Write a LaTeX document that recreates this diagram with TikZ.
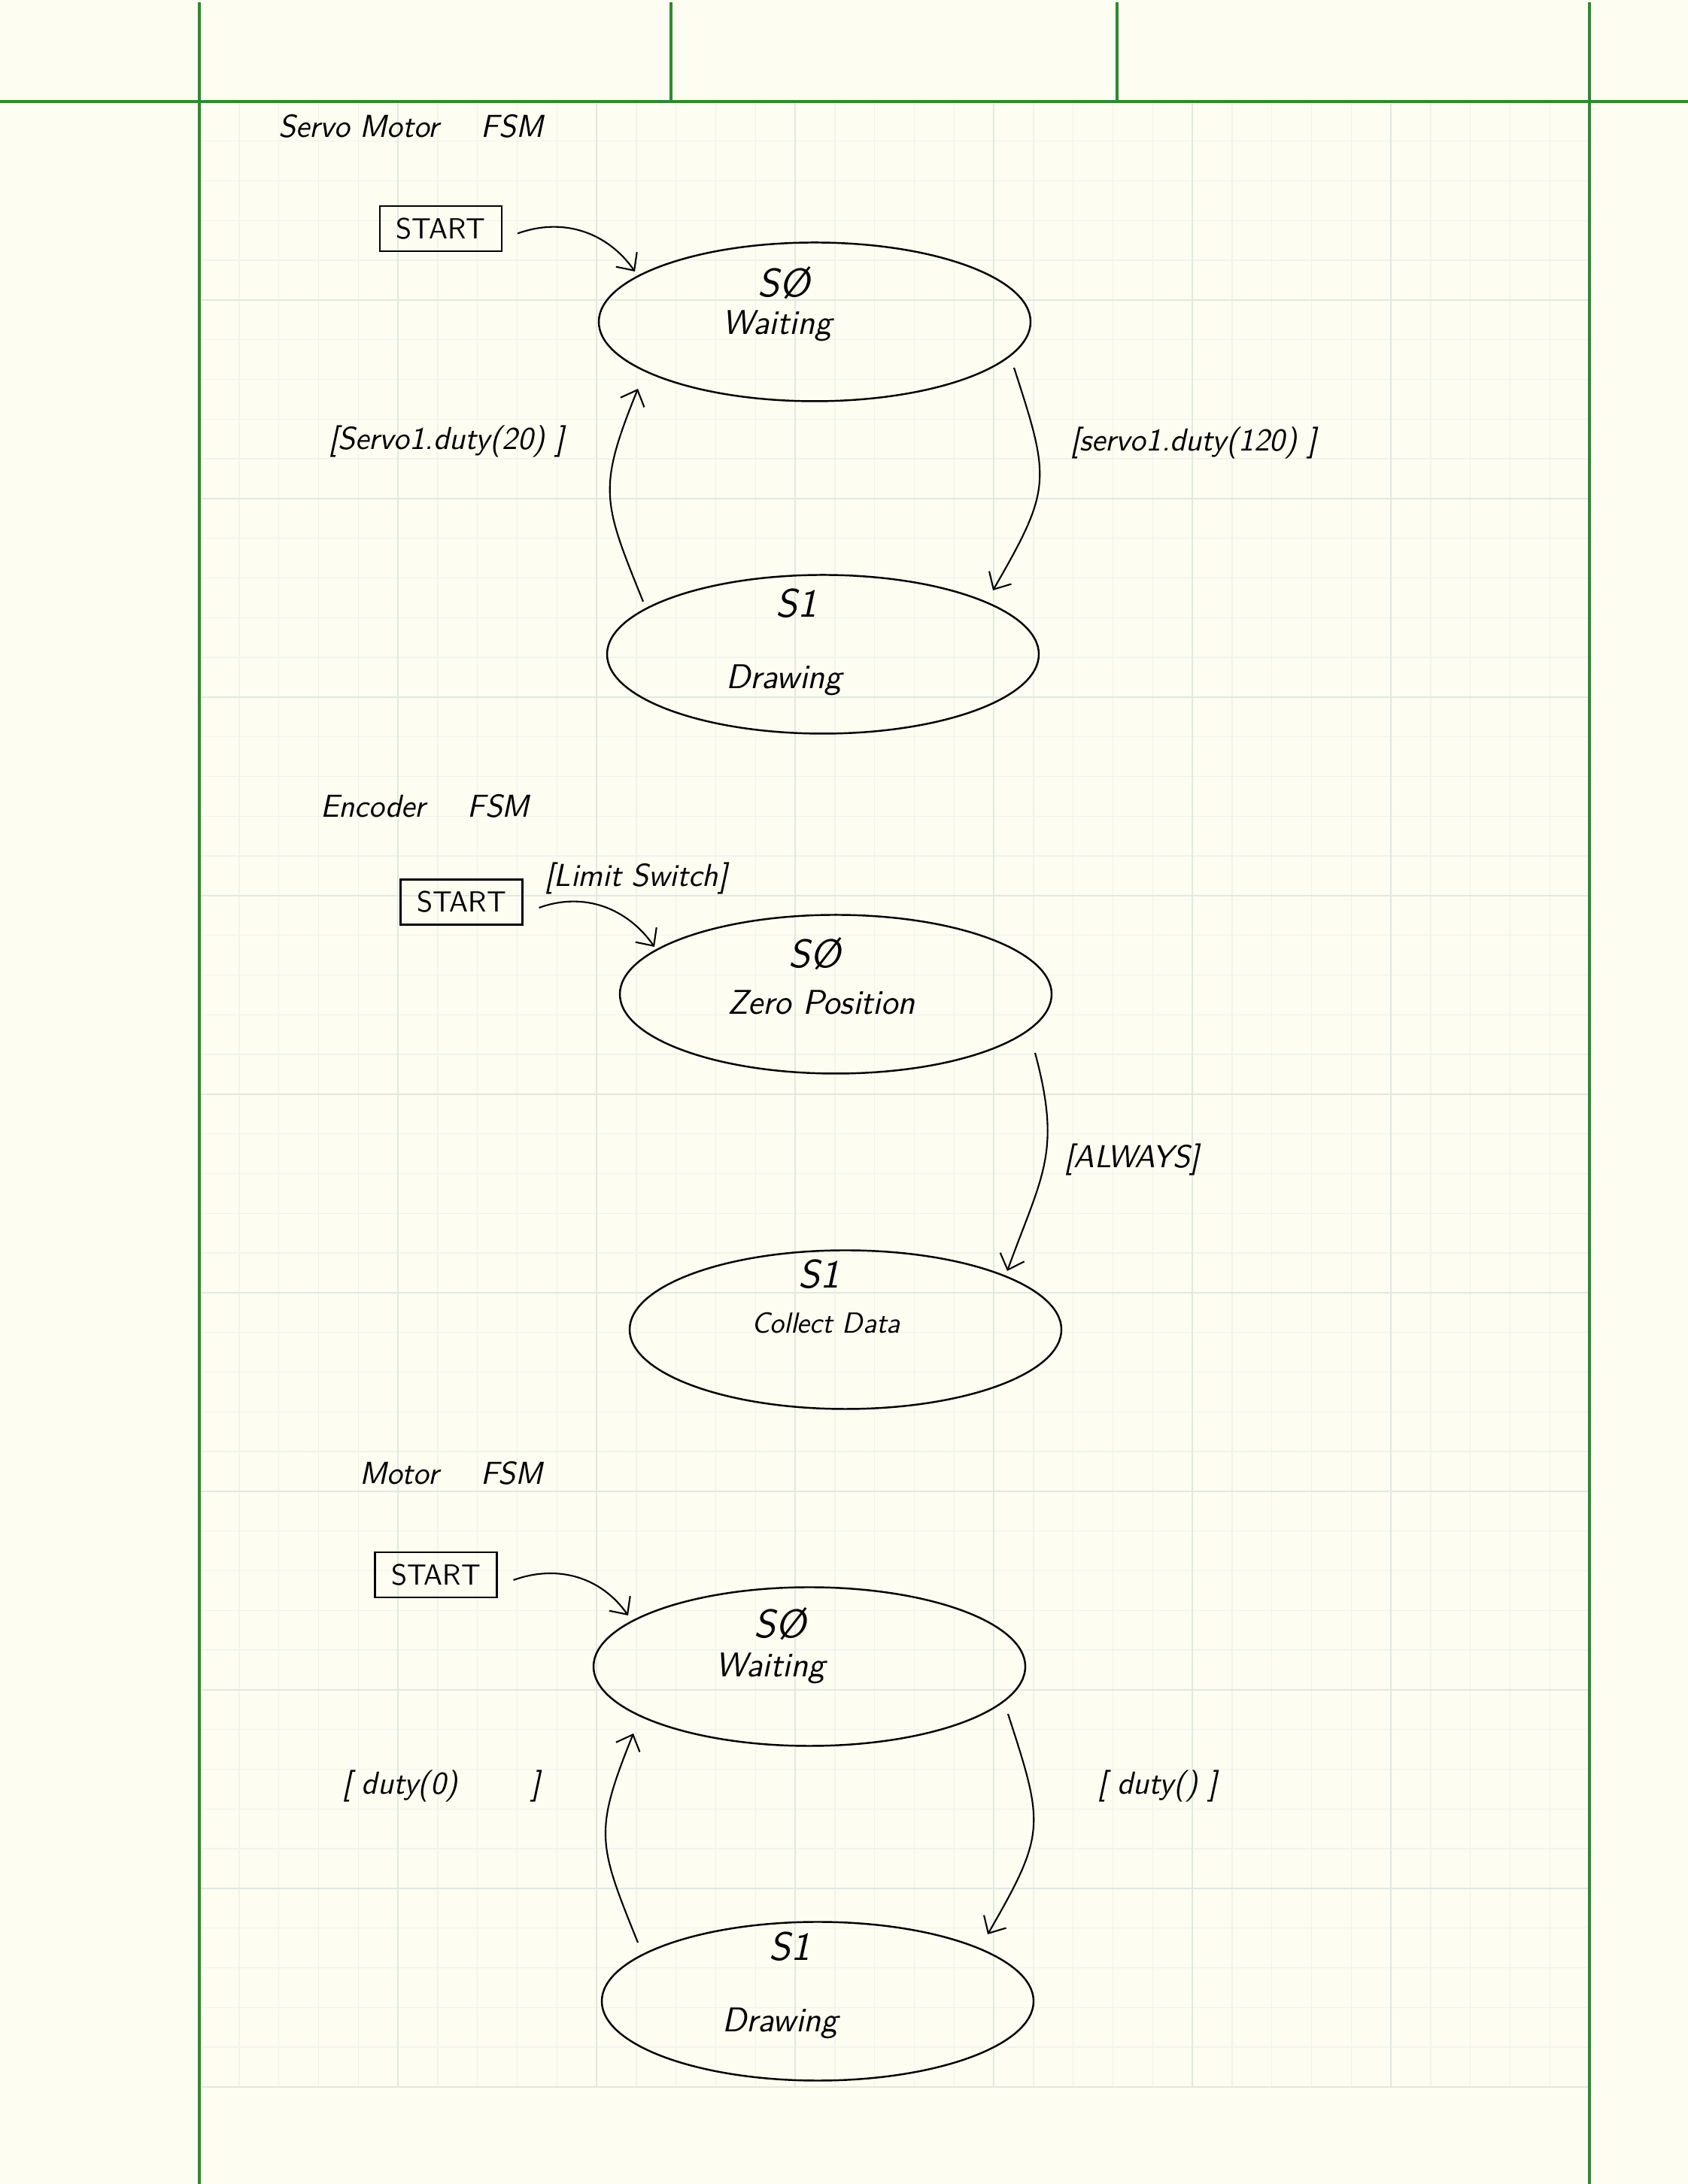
\documentclass[tikz,border=0pt]{standalone}
\usepackage{tikz}
\usetikzlibrary{shapes.geometric,arrows.meta}

\definecolor{paper}{RGB}{253,253,241}
\definecolor{rule}{RGB}{45,138,45}
\definecolor{gridminor}{RGB}{240,244,236}
\definecolor{gridmajor}{RGB}{224,233,224}

\begin{document}
\begin{tikzpicture}[
  hand/.style={font=\sffamily\itshape\fontsize{12}{14}\selectfont},
  stateid/.style={font=\sffamily\itshape\fontsize{15}{18}\selectfont},
  statename/.style={font=\sffamily\itshape\fontsize{13}{16}\selectfont},
  state/.style={ellipse, draw, line width=0.7pt, minimum width=5.74cm, minimum height=2.11cm, inner sep=0pt},
  startbox/.style={draw, line width=0.6pt, minimum width=1.62cm, minimum height=0.6cm, inner sep=0pt, font=\sffamily\fontsize{11}{13}\selectfont},
  trans/.style={line width=0.6pt, -{Straight Barb[length=1.8mm,width=3.4mm]}}
]

% paper
\fill[paper] (0,0) rectangle (22.44,29.04);
\useasboundingbox (0,0) rectangle (22.44,29.04);

% grid
\begin{scope}[shift={(2.65,1.29)}]
\draw[gridminor, line width=0.4pt, step=0.528] (0,0) grid (18.48,26.40);
\draw[gridmajor, line width=0.8pt, step=2.64] (0,0) grid (18.48,26.40);
\end{scope}

% margin lines
\draw[rule, line width=1.1pt] (0,27.69) -- (22.44,27.69);
\draw[rule, line width=1.1pt] (2.65,29.01) -- (2.65,0);
\draw[rule, line width=1.1pt] (21.13,29.01) -- (21.13,0);
\draw[rule, line width=1.1pt] (8.92,29.01) -- (8.92,27.69);
\draw[rule, line width=1.1pt] (14.85,29.01) -- (14.85,27.69);

% (a) Servo motor FSM
\node[hand] (svtitle) at (5.46,27.36) {Servo Motor \quad FSM};
\node[startbox] (svst) at (5.86,26.00) {START};
\node[state] (sv0) at (10.83,24.76) {};
\node[state] (sv1) at (10.94,20.34) {};
\node[stateid] (sv0id) at (10.42,25.28) {SØ};
\node[statename] (sv0name) at (10.33,24.71) {Waiting};
\node[stateid] (sv1id) at (10.59,21.02) {S1};
\node[statename] (sv1name) at (10.42,20.00) {Drawing};
\node[hand] (svlblL) at (5.94,23.17) {[Servo1.duty(20) ]};
\node[hand] (svlblR) at (15.87,23.15) {[servo1.duty(120) ]};

\draw[trans] ([shift={(0.20,-0.065)}]svst.east) to[out=20,in=125] ([shift={(-2.39,0.67)}]sv0.center);
\draw[trans] ([shift={(2.65,-0.61)}]sv0.center) to[out=-72,in=60,looseness=1.35] ([shift={(2.26,0.85)}]sv1.center);
\draw[trans] ([shift={(-2.39,0.70)}]sv1.center) to[out=112,in=-112,looseness=1.3] ([shift={(-2.35,-0.89)}]sv0.center);

% (b) Encoder FSM
\node[hand] (entitle) at (5.65,18.32) {Encoder \quad FSM};
\node[startbox] (enst) at (6.135,17.045) {START};
\node[hand] (enlblT) at (8.46,17.36) {[Limit Switch]};
\node[state] (en0) at (11.11,15.82) {};
\node[state] (en1) at (11.24,11.36) {};
\node[stateid] (en0id) at (10.83,16.36) {SØ};
\node[statename] (en0name) at (10.92,15.71) {Zero Position};
\node[stateid] (en1id) at (10.89,12.10) {S1};
\node[statename, font=\sffamily\itshape\fontsize{11}{13}\selectfont] (en1name) at (10.98,11.45) {Collect Data};
\node[hand] (enlblR) at (15.05,13.62) {[ALWAYS]};

\draw[trans] ([shift={(0.21,-0.075)}]enst.east) to[out=20,in=125] ([shift={(-2.41,0.63)}]en0.center);
\draw[trans] ([shift={(2.65,-0.78)}]en0.center) to[out=-75,in=70,looseness=1.2] ([shift={(2.15,0.78)}]en1.center);

% (c) Motor FSM
\node[hand] (motitle) at (6.00,9.45) {Motor \quad FSM};
\node[startbox] (most) at (5.795,8.10) {START};
\node[state] (mo0) at (10.76,6.88) {};
\node[state] (mo1) at (10.87,2.43) {};
\node[stateid] (mo0id) at (10.37,7.45) {SØ};
\node[statename] (mo0name) at (10.24,6.86) {Waiting};
\node[stateid] (mo1id) at (10.50,3.16) {S1};
\node[statename] (mo1name) at (10.37,2.14) {Drawing};
\node[hand] (molblL) at (5.87,5.29) {[ duty(0) \qquad]};
\node[hand] (molblR) at (15.39,5.29) {[ duty() ]};

\draw[trans] ([shift={(0.21,-0.07)}]most.east) to[out=20,in=125] ([shift={(-2.41,0.68)}]mo0.center);
\draw[trans] ([shift={(2.64,-0.63)}]mo0.center) to[out=-72,in=60,looseness=1.35] ([shift={(2.26,0.89)}]mo1.center);
\draw[trans] ([shift={(-2.39,0.78)}]mo1.center) to[out=112,in=-112,looseness=1.3] ([shift={(-2.34,-0.89)}]mo0.center);

\end{tikzpicture}
\end{document}
